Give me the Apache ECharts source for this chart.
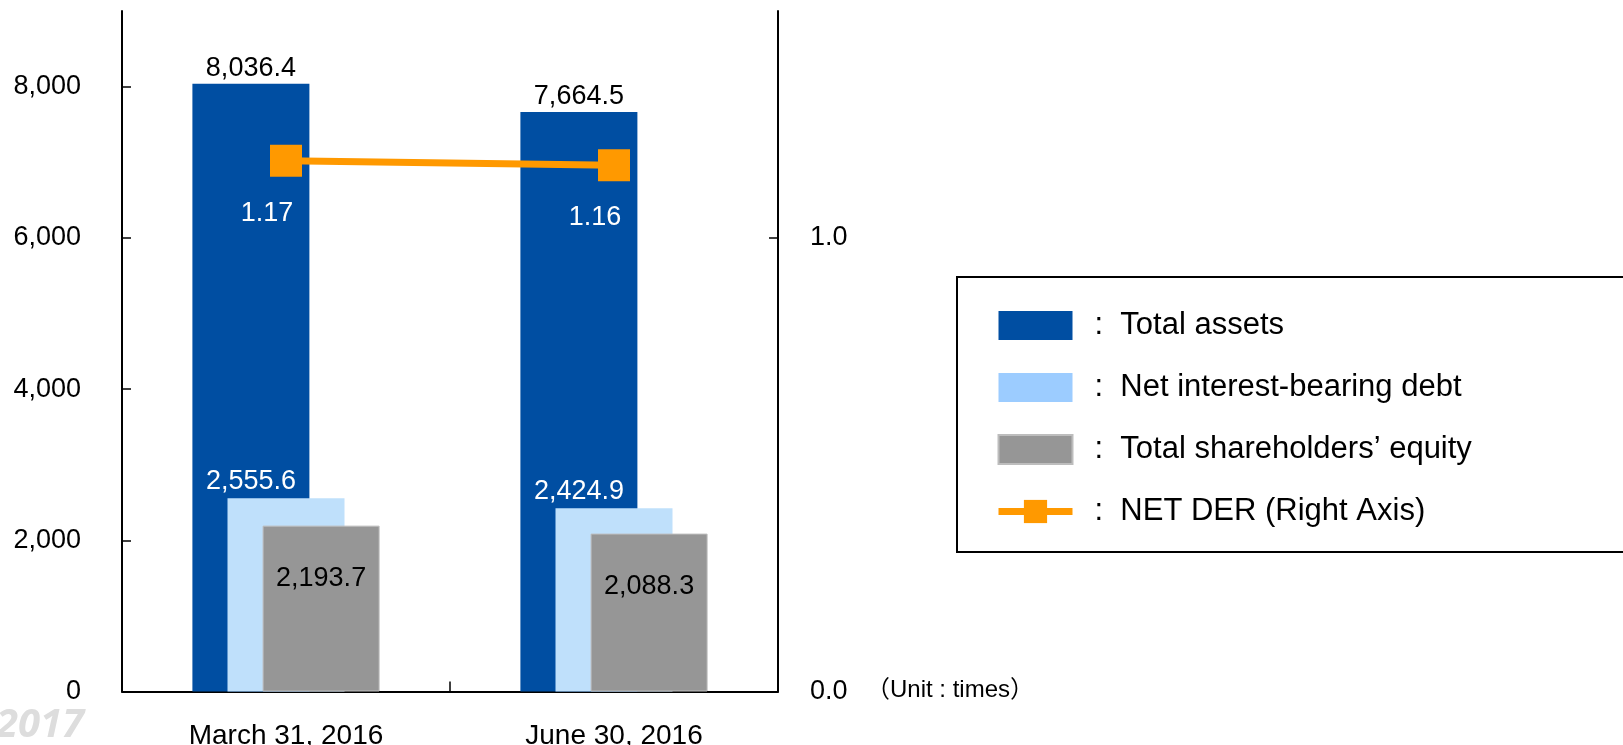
<!DOCTYPE html>
<html>
<head>
<meta charset="utf-8">
<script src="https://cdn.jsdelivr.net/npm/echarts@6/dist/echarts.min.js"></script>
<style>
html,body{margin:0;padding:0;background:#fff;}
#c{width:1623px;height:745px;}
</style>
</head>
<body>
<div id="c"></div>
<script>
const categories = ['March 31, 2016', 'June 30, 2016'];
const totalAssets = [8036.4, 7664.5];
const netDebt = [2555.6, 2424.9];
const equity = [2193.7, 2088.3];
const netDer = [1.17, 1.16];
const leftTicks = [0, 2000, 4000, 6000, 8000];
const rightTicks = [0, 1.0];

const FONT = '"Liberation Sans", Arial, sans-serif';
const fmt1 = v => v.toLocaleString('en-US', {minimumFractionDigits: 1, maximumFractionDigits: 1});

const chart = echarts.init(document.getElementById('c'), null, {renderer: 'canvas'});
chart.setOption({
  animation: false,
  textStyle: {fontFamily: FONT},
  grid: {left: 122, right: 845, top: 11, bottom: 53.5, containLabel: false, outerBoundsMode: 'none'},
  legend: {
    orient: 'vertical',
    left: 995,
    top: 310,
    itemWidth: 74,
    itemHeight: 29,
    itemGap: 31,
    padding: 0,
    selectedMode: false,
    textStyle: {fontSize: 31, color: '#000', fontFamily: FONT, padding: [0, 0, 0, 17], lineHeight: 29},
    formatter: name => ':  ' + name,
    data: [
      {name: 'Total assets', icon: 'rect'},
      {name: 'Net interest-bearing debt', icon: 'rect', itemStyle: {color: '#9CCCFF'}},
      {name: 'Total shareholders\u2019 equity', icon: 'rect'},
      {name: 'NET DER (Right Axis)', lineStyle: {width: 7, color: '#FF9900'}}
    ]
  },
  xAxis: {
    type: 'category',
    data: categories,
    boundaryGap: true,
    axisLine: {lineStyle: {color: '#000', width: 2}},
    axisTick: {show: true, inside: true, length: 10, lineStyle: {color: '#000', width: 1.5}},
    axisLabel: {fontSize: 28, color: '#000', margin: 31, fontFamily: FONT}
  },
  yAxis: [
    {
      type: 'value', min: 0, max: 9000, interval: 2000,
      axisLine: {show: true, lineStyle: {color: '#000', width: 2}},
      axisTick: {show: true, inside: true, length: 9, customValues: leftTicks, lineStyle: {color: '#000', width: 1.5}},
      axisLabel: {fontSize: 27, color: '#000', margin: 41, customValues: leftTicks, fontFamily: FONT,
        padding: [6, 0, 0, 0], formatter: v => v.toLocaleString('en-US')},
      splitLine: {show: false}
    },
    {
      type: 'value', min: 0, max: 1.5, interval: 0.5,
      position: 'right',
      axisLine: {show: true, lineStyle: {color: '#000', width: 2}},
      axisTick: {show: true, inside: true, length: 9, customValues: rightTicks, lineStyle: {color: '#000', width: 1.5}},
      axisLabel: {fontSize: 27, color: '#000', margin: 32, customValues: rightTicks, fontFamily: FONT,
        padding: [6, 0, 0, 0], formatter: v => v.toFixed(1)},
      splitLine: {show: false}
    }
  ],
  series: [
    {
      name: 'Total assets', type: 'bar', data: totalAssets,
      barWidth: 117, barGap: '-70%',
      itemStyle: {color: '#004EA2'},
      label: {show: true, position: 'top', distance: 2, color: '#000', fontSize: 27, fontFamily: FONT,
        formatter: p => fmt1(p.value)}
    },
    {
      name: 'Net interest-bearing debt', type: 'bar', data: netDebt,
      barWidth: 117, barGap: '-70%',
      itemStyle: {color: '#BFE0FB'},
      label: {show: true, position: 'top', distance: 3, offset: [-35, 0], color: '#fff', fontSize: 27, fontFamily: FONT,
        formatter: p => fmt1(p.value)}
    },
    {
      name: 'Total shareholders\u2019 equity', type: 'bar', data: equity,
      barWidth: 117, barGap: '-70%',
      itemStyle: {color: '#969696', borderColor: '#bdbdbd', borderWidth: 1},
      label: {show: true, position: 'insideTop', distance: 39, color: '#000', fontSize: 27, fontFamily: FONT,
        formatter: p => fmt1(p.value)}
    },
    {
      name: 'NET DER (Right Axis)', type: 'line', yAxisIndex: 1, data: netDer,
      symbol: 'rect', symbolSize: 32, z: 5,
      lineStyle: {color: '#FF9900', width: 7},
      itemStyle: {color: '#FF9900'},
      label: {show: true, position: 'bottom', distance: 23, offset: [-19, 0], color: '#fff', fontSize: 27, fontFamily: FONT,
        formatter: p => p.value.toFixed(2)}
    }
  ],
  graphic: [
    {type: 'rect', shape: {x: 957, y: 277, width: 800, height: 275},
      style: {fill: 'none', stroke: '#000', lineWidth: 2}, silent: true},
    {type: 'text', x: 866, y: 690,
      style: {text: '\uFF08Unit : times\uFF09', fontSize: 24, fill: '#000',
        fontFamily: '"Liberation Sans", "Noto Sans CJK JP", sans-serif', verticalAlign: 'middle', align: 'left'}},
    {type: 'text', x: -4, y: 746,
      style: {text: '2017', fontSize: 40, fontWeight: 'bold', fontStyle: 'italic', fill: '#dddddd',
        fontFamily: '"Open Sans", "Liberation Sans", sans-serif', verticalAlign: 'bottom', align: 'left'}}
  ]
});
</script>
</body>
</html>
